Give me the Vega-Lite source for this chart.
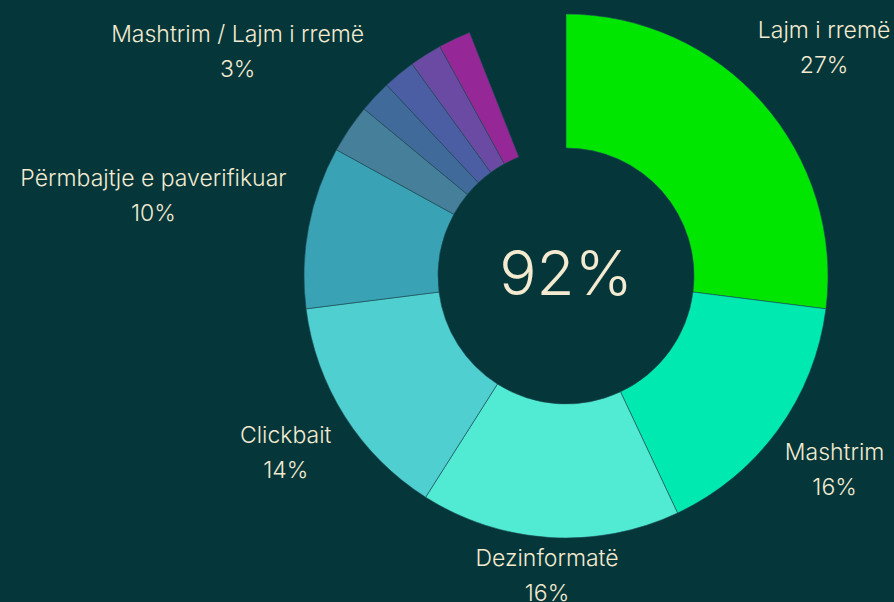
{
  "$schema": "https://vega.github.io/schema/vega-lite/v6.json",
  "width": 656,
  "height": 552,
  "autosize": {"type": "none"},
  "padding": {"left": 238, "top": 0, "right": 0, "bottom": 50},
  "background": "#04363a",
  "config": {"view": {"stroke": null}},
  "data": {
    "values": [
      {"k": "a", "label": "Lajm i rremë", "pct": "27%", "value": 27, "rank": 1},
      {"k": "b", "label": "Mashtrim", "pct": "16%", "value": 16, "rank": 2},
      {"k": "c", "label": "Dezinformatë", "pct": "16%", "value": 16, "rank": 3},
      {"k": "d", "label": "Clickbait", "pct": "14%", "value": 14, "rank": 4},
      {"k": "e", "label": "Përmbajtje e paverifikuar", "pct": "10%", "value": 10, "rank": 5},
      {"k": "f", "label": "Mashtrim / Lajm i rremë", "pct": "3%", "value": 3, "rank": 6},
      {"k": "g", "label": "", "pct": "", "value": 2, "rank": 7},
      {"k": "h", "label": "", "pct": "", "value": 2, "rank": 8},
      {"k": "i", "label": "", "pct": "", "value": 2, "rank": 9},
      {"k": "j", "label": "", "pct": "", "value": 2, "rank": 10}
    ]
  },
  "layer": [
    {
      "mark": {"type": "arc", "outerRadius": 262, "innerRadius": 128, "stroke": "#1f4c56", "strokeWidth": 0.6},
      "encoding": {
        "theta": {"field": "value", "type": "quantitative", "stack": true, "scale": {"domain": [0, 100]}},
        "order": {"field": "rank", "type": "quantitative", "sort": "ascending"},
        "color": {
          "field": "k", "type": "nominal", "legend": null,
          "scale": {
            "domain": ["a", "b", "c", "d", "e", "f", "g", "h", "i", "j"],
            "range": ["#00e600", "#00e9b0", "#50ebd2", "#4fcfcf", "#3aa2b5", "#457f99", "#3f6a99", "#4c5ea3", "#6a4aa3", "#952896"]
          }
        }
      }
    },
    {
      "mark": {
        "type": "text", "dy": -18, "font": "Inter", "fontSize": 23, "fontWeight": 300, "color": "#f3ead0",
        "radius": {"expr": "datum.label === 'Lajm i rremë' ? 344 : datum.label === 'Dezinformatë' ? 302 : datum.label === 'Përmbajtje e paverifikuar' ? 420 : datum.label === 'Mashtrim / Lajm i rremë' ? 397 : 332"}
      },
      "encoding": {
        "theta": {"field": "value", "type": "quantitative", "stack": true, "scale": {"domain": [0, 100]}},
        "order": {"field": "rank", "type": "quantitative", "sort": "ascending"},
        "text": {"field": "label"}
      }
    },
    {
      "mark": {
        "type": "text", "dy": 17, "font": "Inter", "fontSize": 23, "fontWeight": 300, "color": "#f3ead0",
        "radius": {"expr": "datum.label === 'Lajm i rremë' ? 344 : datum.label === 'Dezinformatë' ? 302 : datum.label === 'Përmbajtje e paverifikuar' ? 420 : datum.label === 'Mashtrim / Lajm i rremë' ? 397 : 332"}
      },
      "encoding": {
        "theta": {"field": "value", "type": "quantitative", "stack": true, "scale": {"domain": [0, 100]}},
        "order": {"field": "rank", "type": "quantitative", "sort": "ascending"},
        "text": {"field": "pct"}
      }
    },
    {
      "data": {"values": [{"t": "92%"}]},
      "mark": {"type": "text", "font": "Inter", "fontSize": 62, "fontWeight": 300, "color": "#f3ead0"},
      "encoding": {"text": {"field": "t"}}
    }
  ]
}
